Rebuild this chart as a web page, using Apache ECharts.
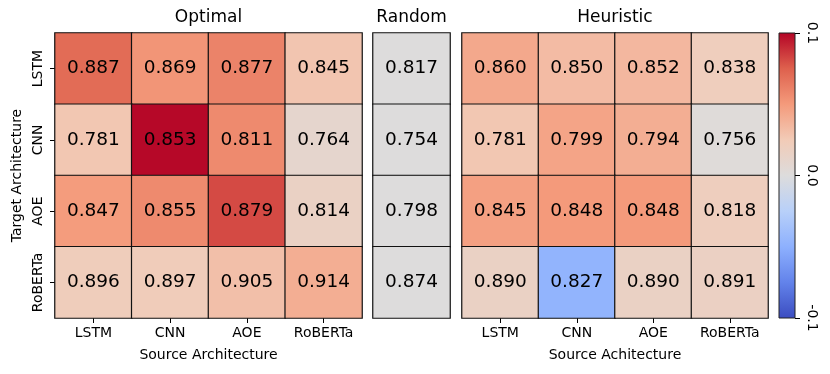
<!DOCTYPE html>
<html>
<head>
<meta charset="utf-8">
<script src="https://cdn.jsdelivr.net/npm/echarts@6/dist/echarts.min.js"></script>
<style>html,body{margin:0;padding:0;background:#fff}#c{width:830px;height:374px}</style>
</head>
<body>
<div id="c"></div>
<script>
const sources = ['LSTM', 'CNN', 'AOE', 'RoBERTa'];
const targets = ['LSTM', 'CNN', 'AOE', 'RoBERTa'];
const optimal = [
  [0.887, 0.869, 0.877, 0.845],
  [0.781, 0.853, 0.811, 0.764],
  [0.847, 0.855, 0.879, 0.814],
  [0.896, 0.897, 0.905, 0.914]
];
const random = [0.817, 0.754, 0.798, 0.874];
const heuristic = [
  [0.860, 0.850, 0.852, 0.838],
  [0.781, 0.799, 0.794, 0.756],
  [0.845, 0.848, 0.848, 0.818],
  [0.890, 0.827, 0.890, 0.891]
];
const panelTitles = ['Optimal', 'Random', 'Heuristic'];
const colorbarTicks = [-0.1, 0.0, 0.1];
const coolwarm = ['#3b4cc0', '#6282ea', '#8db0fe', '#b8d0f9', '#dddcdc', '#f2cbb7', '#f49a7b', '#de604d', '#b40426'];

const FONT = 'DejaVu Sans';
function cells(mat) {
  const out = [];
  mat.forEach((row, yi) => row.forEach((v, xi) => out.push([xi, yi, v - random[yi], v])));
  return out;
}
const randomCells = random.map((v, yi) => [0, yi, 0, v]);

const chart = echarts.init(document.getElementById('c'), null, {renderer: 'canvas'});
const grids = [
  {left: 55, top: 33, width: 307, height: 285},
  {left: 373, top: 33, width: 77, height: 285},
  {left: 462, top: 33, width: 306, height: 285},
  {left: 779, top: 33, width: 16, height: 285, show: true, borderColor: '#222', borderWidth: 1,
   backgroundColor: new echarts.graphic.LinearGradient(0, 1, 0, 0,
     coolwarm.map((c, i) => ({offset: i / (coolwarm.length - 1), color: c})))}
];
const tickStyle = {show: true, length: 5, interval: 0, lineStyle: {color: '#000', width: 1}};
const labelStyle = {color: '#000', fontSize: 14, fontFamily: FONT};
const xAxes = [
  {gridIndex: 0, type: 'category', data: sources, axisLine: {show: false}, axisTick: Object.assign({alignWithLabel: true}, tickStyle),
   axisLabel: Object.assign({margin: 8, interval: 0}, labelStyle), splitLine: {show: false},
   name: 'Source Architecture', nameLocation: 'middle', nameGap: 30, nameTextStyle: labelStyle},
  {gridIndex: 1, type: 'category', data: [''], axisLine: {show: false}, axisTick: {show: false}, axisLabel: {show: false}},
  {gridIndex: 2, type: 'category', data: sources, axisLine: {show: false}, axisTick: Object.assign({alignWithLabel: true}, tickStyle),
   axisLabel: Object.assign({margin: 8, interval: 0}, labelStyle), splitLine: {show: false},
   name: 'Source Achitecture', nameLocation: 'middle', nameGap: 30, nameTextStyle: labelStyle},
  {gridIndex: 3, type: 'category', data: [''], axisLine: {show: false}, axisTick: {show: false}, axisLabel: {show: false}}
];
const yAxes = [
  {gridIndex: 0, type: 'category', data: targets, inverse: true, axisLine: {show: false},
   axisTick: Object.assign({alignWithLabel: true}, tickStyle),
   axisLabel: Object.assign({rotate: 90, margin: 10, interval: 0}, labelStyle),
   name: 'Target Architecture', nameLocation: 'middle', nameGap: 31, nameTextStyle: labelStyle},
  {gridIndex: 1, type: 'category', data: targets, inverse: true, axisLine: {show: false}, axisTick: {show: false}, axisLabel: {show: false}},
  {gridIndex: 2, type: 'category', data: targets, inverse: true, axisLine: {show: false}, axisTick: {show: false}, axisLabel: {show: false}},
  {gridIndex: 3, type: 'value', position: 'right', min: -0.1, max: 0.1, interval: 0.1,
   axisLine: {show: false}, splitLine: {show: false}, axisTick: tickStyle,
   axisLabel: Object.assign({rotate: -90, margin: 10, formatter: v => colorbarTicks.reduce((a, t) => Math.abs(t - v) < 1e-9 ? t.toFixed(1) : a, '')}, labelStyle)}
];
const cellLabel = {show: true, color: '#000', fontSize: 18.5, fontFamily: FONT, formatter: p => p.value[3].toFixed(3)};
const cellItem = {borderColor: '#111', borderWidth: 1.2};
const titleX = [208.5, 411.5, 615];
chart.setOption({
  animation: false,
  textStyle: {fontFamily: FONT},
  title: panelTitles.map((t, i) => ({text: t, left: titleX[i], top: 9, textAlign: 'center', padding: 0,
    textStyle: {color: '#000', fontSize: 17, fontWeight: 'normal', fontFamily: FONT}})),
  grid: grids,
  xAxis: xAxes,
  yAxis: yAxes,
  visualMap: {type: 'continuous', show: false, min: -0.1, max: 0.1, dimension: 2, seriesIndex: [0, 1, 2],
    inRange: {color: coolwarm}},
  series: [
    {type: 'heatmap', xAxisIndex: 0, yAxisIndex: 0, data: cells(optimal), label: cellLabel, itemStyle: cellItem, emphasis: {disabled: true}},
    {type: 'heatmap', xAxisIndex: 1, yAxisIndex: 1, data: randomCells, label: cellLabel, itemStyle: cellItem, emphasis: {disabled: true}},
    {type: 'heatmap', xAxisIndex: 2, yAxisIndex: 2, data: cells(heuristic), label: cellLabel, itemStyle: cellItem, emphasis: {disabled: true}}
  ]
});
</script>
</body>
</html>
